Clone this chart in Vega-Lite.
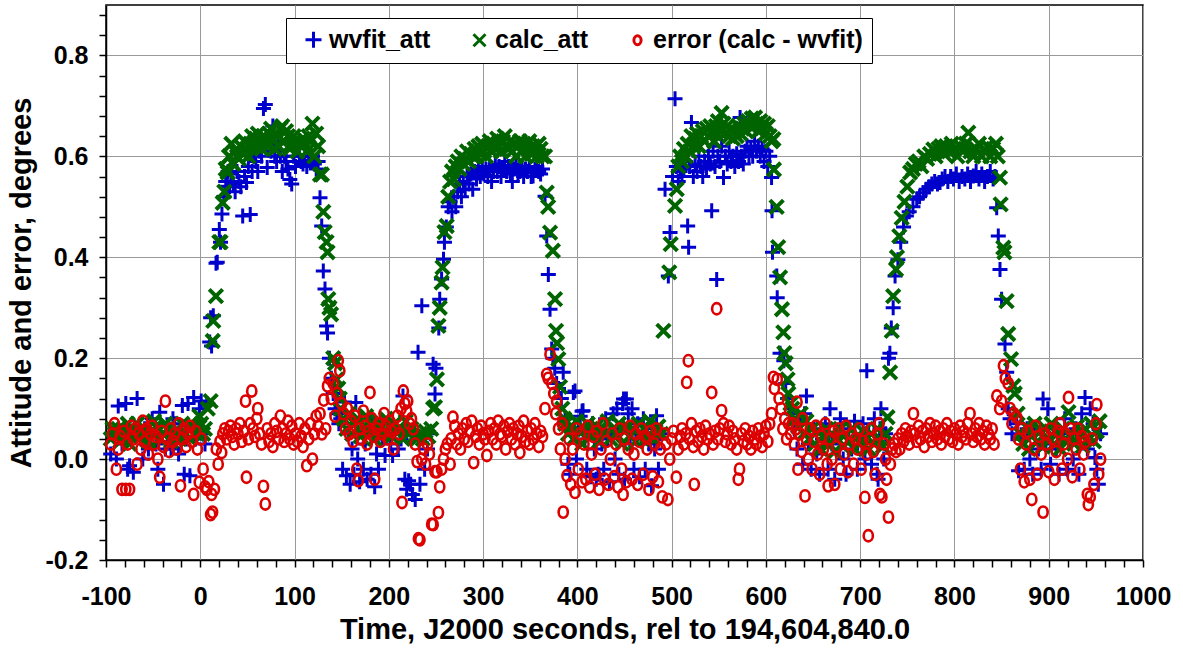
{
"$schema":"https://vega.github.io/schema/vega-lite/v6.json",
"width":1037,"height":555,
"autosize":{"type":"none"},
"padding":{"left":106,"top":5,"right":40,"bottom":93},
"background":"white",
"config":{
 "view":{"stroke":"black","strokeWidth":1.5},
 "font":"Liberation Sans",
 "axis":{"labelFont":"Liberation Sans","labelFontWeight":"bold","labelFontSize":25,"labelColor":"black","titleFont":"Liberation Sans","titleFontWeight":"bold","titleFontSize":29,"titleColor":"black","domainColor":"black","domainWidth":1.5,"tickColor":"black","tickWidth":1.5,"tickSize":7,"gridWidth":1,"labelOverlap":false,"labelFlush":false}
},
"datasets":{
"w":[{"t":-95,"v":0.01},{"t":-91,"v":0.05},{"t":-89,"v":0.0},{"t":-87,"v":0.105},{"t":-83,"v":0.03},{"t":-79,"v":0.11},{"t":-77,"v":-0.02},{"t":-75,"v":-0.013},{"t":-71,"v":-0.026},{"t":-67,"v":0.12},{"t":-63,"v":0.04},{"t":-61,"v":0.0},{"t":-59,"v":0.06},{"t":-55,"v":0.02},{"t":-51,"v":0.08},{"t":-47,"v":0.03},{"t":-45,"v":-0.02},{"t":-43,"v":0.093},{"t":-42,"v":0.05},{"t":-39,"v":-0.05},{"t":-37,"v":0.02},{"t":-35,"v":0.05},{"t":-31,"v":0.02},{"t":-29,"v":0.08},{"t":-27,"v":0.07},{"t":-23,"v":0.01},{"t":-19,"v":0.106},{"t":-17,"v":-0.03},{"t":-15,"v":0.04},{"t":-13,"v":0.11},{"t":-11,"v":-0.033},{"t":-7,"v":0.122},{"t":-5,"v":0.04},{"t":-3,"v":0.06},{"t":-1,"v":0.1},{"t":1,"v":0.115},{"t":3,"v":0.05},{"t":5,"v":0.03},{"t":7,"v":0.11},
{"t":10,"v":0.232},{"t":11,"v":0.28},{"t":12,"v":0.224},{"t":13.8,"v":0.284},{"t":16.7,"v":0.388},{"t":18,"v":0.39},{"t":20.2,"v":0.455},{"t":21.5,"v":0.43},{"t":23,"v":0.486},{"t":25,"v":0.52},{"t":27,"v":0.55},{"t":28,"v":0.541},{"t":29.5,"v":0.57},
{"t":31,"v":0.54},{"t":33,"v":0.565},{"t":35,"v":0.545},{"t":37,"v":0.53},{"t":39,"v":0.57},{"t":41,"v":0.55},{"t":43,"v":0.54},{"t":45,"v":0.482},{"t":47,"v":0.56},{"t":49,"v":0.548},{"t":51,"v":0.58},{"t":53,"v":0.485},{"t":55,"v":0.57},{"t":57,"v":0.6},{"t":59,"v":0.59},{"t":61,"v":0.57},{"t":63,"v":0.61},{"t":65,"v":0.6},{"t":67,"v":0.695},{"t":69,"v":0.703},{"t":71,"v":0.578},{"t":73,"v":0.62},{"t":75,"v":0.61},{"t":77,"v":0.66},{"t":79,"v":0.6},{"t":81,"v":0.59},{"t":83,"v":0.625},{"t":85,"v":0.6},{"t":87,"v":0.57},{"t":89,"v":0.6},{"t":91,"v":0.59},{"t":93,"v":0.575},{"t":95,"v":0.554},{"t":97,"v":0.545},{"t":99,"v":0.6},{"t":101,"v":0.58},{"t":103,"v":0.62},{"t":105,"v":0.6},{"t":107,"v":0.59},{"t":109,"v":0.585},{"t":111,"v":0.6},{"t":113,"v":0.58},{"t":115,"v":0.6},{"t":117,"v":0.59},{"t":119,"v":0.6},{"t":121,"v":0.585},{"t":123,"v":0.575},{"t":125,"v":0.59},
{"t":127,"v":0.518},{"t":128.8,"v":0.462},{"t":130.5,"v":0.373},{"t":132.3,"v":0.337},{"t":134,"v":0.264},{"t":135,"v":0.25},{"t":137,"v":0.2},{"t":139,"v":0.16},{"t":141,"v":0.13},{"t":143,"v":0.1},{"t":145,"v":0.09},{"t":147,"v":0.07},
{"t":149,"v":0.08},{"t":151,"v":-0.02},{"t":153,"v":0.113},{"t":155,"v":-0.033},{"t":157,"v":0.05},{"t":159,"v":-0.05},{"t":161,"v":0.02},{"t":163,"v":-0.03},{"t":165,"v":0.112},{"t":167,"v":0.0},{"t":169,"v":-0.045},{"t":171,"v":0.06},{"t":173,"v":-0.02},{"t":175,"v":0.03},{"t":177,"v":-0.04},{"t":179,"v":0.08},{"t":181,"v":-0.03},{"t":183,"v":0.05},{"t":185,"v":-0.055},{"t":187,"v":0.01},{"t":189,"v":-0.02},{"t":191,"v":0.07},{"t":193,"v":0.04},{"t":196,"v":0.007},{"t":199,"v":0.05},{"t":202,"v":0.03},{"t":204,"v":0.007},{"t":207,"v":0.06},{"t":210,"v":0.02},{"t":213,"v":0.04},{"t":215,"v":0.125},{"t":217,"v":-0.04},{"t":219,"v":-0.06},{"t":221,"v":-0.043},{"t":223,"v":-0.05},{"t":225,"v":-0.07},{"t":228,"v":-0.08},{"t":231,"v":0.212},{"t":233,"v":-0.05},{"t":235,"v":0.304},{"t":238,"v":-0.02},{"t":241,"v":0.02},{"t":244,"v":0.05},
{"t":247,"v":0.188},{"t":249,"v":0.129},{"t":250,"v":0.18},{"t":253,"v":0.26},{"t":254,"v":0.317},{"t":256,"v":0.357},{"t":258,"v":0.396},{"t":259,"v":0.43},{"t":261,"v":0.46},{"t":263,"v":0.5},{"t":265,"v":0.51},
{"t":267,"v":0.49},{"t":269,"v":0.52},{"t":271,"v":0.5},{"t":273,"v":0.53},{"t":275,"v":0.545},{"t":277,"v":0.52},{"t":279,"v":0.55},{"t":281,"v":0.535},{"t":283,"v":0.56},{"t":285,"v":0.545},{"t":287,"v":0.565},{"t":289,"v":0.535},{"t":291,"v":0.57},{"t":293,"v":0.555},{"t":295,"v":0.575},{"t":297,"v":0.56},{"t":299,"v":0.58},{"t":301,"v":0.565},{"t":303,"v":0.575},{"t":305,"v":0.56},{"t":307,"v":0.58},{"t":309,"v":0.55},{"t":311,"v":0.57},{"t":313,"v":0.585},{"t":315,"v":0.57},{"t":317,"v":0.58},{"t":319,"v":0.56},{"t":321,"v":0.575},{"t":323,"v":0.59},{"t":325,"v":0.57},{"t":327,"v":0.58},{"t":329,"v":0.565},{"t":331,"v":0.55},{"t":333,"v":0.575},{"t":335,"v":0.585},{"t":337,"v":0.565},{"t":339,"v":0.57},{"t":341,"v":0.58},{"t":343,"v":0.56},{"t":345,"v":0.575},{"t":347,"v":0.57},{"t":349,"v":0.58},{"t":351,"v":0.56},{"t":353,"v":0.561},{"t":355,"v":0.575},{"t":357,"v":0.58},{"t":359,"v":0.57},{"t":361,"v":0.565},{"t":363,"v":0.575},
{"t":365.7,"v":0.521},{"t":367.5,"v":0.442},{"t":369.2,"v":0.366},{"t":371,"v":0.297},{"t":372.8,"v":0.218},{"t":374,"v":0.2},{"t":376,"v":0.18},{"t":378,"v":0.15},{"t":380,"v":0.14},{"t":383,"v":0.12},{"t":385,"v":0.172},
{"t":387,"v":0.08},{"t":390,"v":-0.01},{"t":392,"v":-0.03},{"t":395.7,"v":0.132},{"t":397.5,"v":0.135},{"t":399,"v":0.0},{"t":401,"v":0.06},{"t":403,"v":0.085},{"t":405,"v":0.095},{"t":406,"v":0.096},{"t":408,"v":0.04},{"t":410,"v":-0.02},{"t":412,"v":0.05},{"t":414,"v":-0.035},{"t":416,"v":0.07},{"t":418,"v":0.02},{"t":420,"v":-0.04},{"t":422,"v":-0.03},{"t":424,"v":0.06},{"t":426,"v":0.03},{"t":428,"v":-0.02},{"t":430,"v":0.08},{"t":432,"v":0.04},{"t":434,"v":-0.045},{"t":436,"v":0.05},{"t":438,"v":0.09},{"t":440,"v":0.0},{"t":442,"v":0.1},{"t":444,"v":-0.03},{"t":446,"v":0.06},{"t":448,"v":0.11},{"t":449,"v":0.119},{"t":450,"v":-0.04},{"t":452,"v":0.119},{"t":454,"v":0.09},{"t":456,"v":0.03},{"t":458,"v":0.1},{"t":460,"v":-0.02},{"t":462,"v":0.05},{"t":464,"v":0.07},{"t":466,"v":-0.035},{"t":468,"v":0.04},{"t":470,"v":0.08},{"t":472,"v":-0.02},{"t":474,"v":0.05},{"t":476,"v":0.03},{"t":478.7,"v":-0.053},{"t":480,"v":0.06},{"t":482,"v":0.02},{"t":484,"v":0.086},{"t":486,"v":-0.02},{"t":488,"v":0.05},
{"t":493,"v":0.535},{"t":496.5,"v":0.363},{"t":498.3,"v":0.449},{"t":501,"v":0.56},{"t":503.6,"v":0.714},{"t":505,"v":0.58},
{"t":507,"v":0.55},{"t":509,"v":0.57},{"t":511,"v":0.56},{"t":513,"v":0.575},{"t":515,"v":0.59},{"t":517,"v":0.462},{"t":518,"v":0.42},{"t":519,"v":0.58},{"t":521,"v":0.667},{"t":523,"v":0.56},{"t":525,"v":0.585},{"t":527,"v":0.57},{"t":529,"v":0.6},{"t":531,"v":0.58},{"t":533,"v":0.56},{"t":535,"v":0.59},{"t":537,"v":0.575},{"t":539,"v":0.6},{"t":541,"v":0.585},{"t":542.5,"v":0.492},{"t":544,"v":0.61},{"t":546,"v":0.58},{"t":547.8,"v":0.356},{"t":549,"v":0.6},{"t":551,"v":0.59},{"t":553,"v":0.62},{"t":555,"v":0.558},{"t":557,"v":0.6},{"t":559,"v":0.585},{"t":561,"v":0.61},{"t":563,"v":0.59},{"t":565,"v":0.6},{"t":567,"v":0.58},{"t":569,"v":0.605},{"t":571,"v":0.59},{"t":572.6,"v":0.677},{"t":574,"v":0.6},{"t":576,"v":0.585},{"t":578,"v":0.61},{"t":580,"v":0.62},{"t":582,"v":0.6},{"t":584,"v":0.615},{"t":586,"v":0.6},{"t":588,"v":0.63},{"t":590,"v":0.61},{"t":592,"v":0.62},{"t":594,"v":0.6},{"t":596,"v":0.615},{"t":598,"v":0.59},{"t":600,"v":0.61},{"t":602,"v":0.58},{"t":604,"v":0.6},{"t":606,"v":0.558},
{"t":606.5,"v":0.492},{"t":607,"v":0.41},{"t":611.5,"v":0.363},{"t":612,"v":0.32},{"t":615,"v":0.21},{"t":619,"v":0.195},{"t":621,"v":0.15},{"t":623,"v":0.12},{"t":625,"v":0.09},
{"t":627,"v":0.1},{"t":630,"v":0.06},{"t":633,"v":0.02},{"t":636,"v":0.08},{"t":639,"v":-0.01},{"t":641,"v":0.09},{"t":643,"v":0.125},{"t":645,"v":0.03},{"t":648,"v":-0.02},{"t":651,"v":0.06},{"t":654,"v":0.01},{"t":657,"v":-0.03},{"t":660,"v":0.04},{"t":663,"v":0.07},{"t":666,"v":-0.02},{"t":668,"v":0.1},{"t":670,"v":0.03},{"t":673,"v":-0.04},{"t":676,"v":0.05},{"t":679,"v":0.08},{"t":682,"v":0.0},{"t":685,"v":-0.03},{"t":688,"v":0.06},{"t":691,"v":0.02},{"t":694,"v":0.075},{"t":697,"v":-0.02},{"t":700,"v":0.04},{"t":703,"v":0.07},{"t":705,"v":0.0},{"t":707,"v":0.175},{"t":709,"v":0.05},{"t":712,"v":-0.01},{"t":715,"v":0.08},{"t":718,"v":-0.03},{"t":719,"v":-0.04},{"t":721,"v":0.06},{"t":722,"v":0.1},{"t":725,"v":0.0},{"t":727,"v":0.05},
{"t":730,"v":0.2},{"t":731.5,"v":0.21},{"t":733,"v":0.26},{"t":735,"v":0.3},{"t":737,"v":0.363},{"t":740,"v":0.395},{"t":743,"v":0.43},{"t":746,"v":0.46},{"t":749,"v":0.482},{"t":752,"v":0.49},{"t":756,"v":0.5},{"t":760,"v":0.515},
{"t":763,"v":0.52},{"t":767,"v":0.528},{"t":770,"v":0.535},{"t":773,"v":0.54},{"t":776,"v":0.545},{"t":779,"v":0.55},{"t":782,"v":0.545},{"t":784.7,"v":0.548},{"t":787,"v":0.555},{"t":790,"v":0.56},{"t":793,"v":0.55},{"t":796,"v":0.56},{"t":799,"v":0.555},{"t":802,"v":0.565},{"t":805,"v":0.55},{"t":808,"v":0.56},{"t":811,"v":0.555},{"t":814,"v":0.565},{"t":817,"v":0.55},{"t":820,"v":0.561},{"t":823,"v":0.57},{"t":826,"v":0.555},{"t":829,"v":0.565},{"t":832,"v":0.55},{"t":835,"v":0.56},{"t":838,"v":0.57},{"t":841,"v":0.555},{"t":843,"v":0.56},
{"t":844.8,"v":0.498},{"t":846.5,"v":0.442},{"t":848.3,"v":0.376},{"t":850,"v":0.317},{"t":853.6,"v":0.228},{"t":855.4,"v":0.172},{"t":857,"v":0.1},{"t":859,"v":0.08},{"t":861,"v":0.05},
{"t":866,"v":0.07},{"t":868,"v":-0.023},{"t":871,"v":0.04},{"t":874,"v":-0.02},{"t":877,"v":0.06},{"t":880,"v":0.0},{"t":883,"v":-0.03},{"t":886,"v":0.05},{"t":889,"v":0.02},{"t":892,"v":-0.02},{"t":894,"v":0.119},{"t":897,"v":0.03},{"t":899,"v":0.1},{"t":902,"v":-0.01},{"t":905,"v":0.06},{"t":908,"v":0.02},{"t":911,"v":-0.03},{"t":914,"v":0.05},{"t":917,"v":0.08},{"t":920,"v":-0.02},{"t":923,"v":0.04},{"t":926,"v":0.0},{"t":929,"v":0.06},{"t":932,"v":-0.03},{"t":935,"v":0.09},{"t":938.5,"v":0.122},{"t":941,"v":0.02},{"t":944,"v":0.1},{"t":947,"v":0.07},{"t":949,"v":0.003},{"t":951,"v":-0.02},{"t":952.6,"v":-0.05},{"t":955,"v":0.05}],
"c":[{"t":-95,"v":0.04},{"t":-93,"v":0.06},{"t":-91,"v":0.05},{"t":-87,"v":0.06},{"t":-85,"v":0.035},{"t":-83,"v":0.04},{"t":-79,"v":0.055},{"t":-77,"v":0.07},{"t":-75,"v":0.03},{"t":-71,"v":0.05},{"t":-69,"v":0.045},{"t":-67,"v":0.07},{"t":-63,"v":0.045},{"t":-59,"v":0.06},{"t":-57,"v":0.04},{"t":-55,"v":0.035},{"t":-51,"v":0.05},{"t":-49,"v":0.075},{"t":-47,"v":0.065},{"t":-43,"v":0.04},{"t":-39,"v":0.05},{"t":-37,"v":0.07},{"t":-35,"v":0.06},{"t":-31,"v":0.035},{"t":-27,"v":0.055},{"t":-25,"v":0.04},{"t":-23,"v":0.045},{"t":-19,"v":0.07},{"t":-15,"v":0.05},{"t":-13,"v":0.065},{"t":-11,"v":0.04},{"t":-7,"v":0.065},{"t":-3,"v":0.05},{"t":-1,"v":0.085},{"t":1,"v":0.07},{"t":3,"v":0.05},{"t":5,"v":0.06},{"t":8,"v":0.1},{"t":11,"v":0.115},
{"t":13.2,"v":0.234},{"t":13.8,"v":0.274},{"t":16.6,"v":0.323},{"t":20.2,"v":0.43},{"t":21.5,"v":0.43},{"t":23.8,"v":0.508},{"t":25.5,"v":0.53},{"t":27,"v":0.575},{"t":29,"v":0.568},{"t":30.5,"v":0.6},
{"t":31,"v":0.6},{"t":33,"v":0.625},{"t":35,"v":0.585},{"t":37,"v":0.61},{"t":39,"v":0.6},{"t":41,"v":0.595},{"t":43,"v":0.62},{"t":45,"v":0.605},{"t":47,"v":0.63},{"t":49,"v":0.615},{"t":51,"v":0.6},{"t":53,"v":0.625},{"t":55,"v":0.64},{"t":57,"v":0.62},{"t":59,"v":0.635},{"t":61,"v":0.645},{"t":63,"v":0.625},{"t":65,"v":0.615},{"t":67,"v":0.64},{"t":69,"v":0.63},{"t":71,"v":0.62},{"t":73,"v":0.645},{"t":75,"v":0.655},{"t":77,"v":0.635},{"t":79,"v":0.615},{"t":81,"v":0.64},{"t":83,"v":0.62},{"t":85,"v":0.655},{"t":87,"v":0.66},{"t":89,"v":0.63},{"t":91,"v":0.65},{"t":93,"v":0.64},{"t":95,"v":0.615},{"t":97,"v":0.625},{"t":99,"v":0.64},{"t":101,"v":0.63},{"t":103,"v":0.61},{"t":105,"v":0.625},{"t":107,"v":0.62},{"t":109,"v":0.635},{"t":111,"v":0.625},{"t":113,"v":0.61},{"t":115,"v":0.64},{"t":117,"v":0.63},{"t":119,"v":0.665},{"t":121,"v":0.6},{"t":123,"v":0.645},{"t":125,"v":0.62},
{"t":127,"v":0.564},{"t":129,"v":0.564},{"t":130.5,"v":0.49},{"t":132,"v":0.45},{"t":134,"v":0.43},{"t":135,"v":0.41},{"t":135.8,"v":0.317},{"t":137,"v":0.3},{"t":138.7,"v":0.287},{"t":141,"v":0.2},{"t":143,"v":0.19},{"t":144.7,"v":0.158},{"t":146.4,"v":0.14},{"t":148,"v":0.12},
{"t":149,"v":0.1},{"t":152,"v":0.08},{"t":155,"v":0.06},{"t":158,"v":0.09},{"t":161,"v":0.05},{"t":164,"v":0.07},{"t":167,"v":0.08},{"t":170,"v":0.045},{"t":173,"v":0.065},{"t":176,"v":0.085},{"t":179,"v":0.055},{"t":182,"v":0.07},{"t":185,"v":0.04},{"t":188,"v":0.075},{"t":191,"v":0.06},{"t":194,"v":0.05},{"t":197,"v":0.08},{"t":200,"v":0.065},{"t":203,"v":0.045},{"t":206,"v":0.07},{"t":209,"v":0.055},{"t":212,"v":0.06},{"t":215,"v":0.04},{"t":218,"v":0.075},{"t":221,"v":0.05},{"t":224,"v":0.06},{"t":227,"v":0.045},{"t":230,"v":0.04},{"t":233,"v":0.05},{"t":236,"v":0.04},{"t":239,"v":0.055},{"t":242,"v":0.045},{"t":245,"v":0.06},
{"t":247,"v":0.1},{"t":249,"v":0.103},{"t":251,"v":0.158},{"t":252.6,"v":0.264},{"t":254,"v":0.3},{"t":256,"v":0.35},{"t":257,"v":0.38},{"t":259,"v":0.45},{"t":261.4,"v":0.462},{"t":263,"v":0.52},{"t":265,"v":0.55},
{"t":267,"v":0.57},{"t":269,"v":0.555},{"t":271,"v":0.58},{"t":273,"v":0.59},{"t":275,"v":0.575},{"t":277,"v":0.6},{"t":279,"v":0.585},{"t":281,"v":0.595},{"t":283,"v":0.61},{"t":285,"v":0.59},{"t":287,"v":0.605},{"t":289,"v":0.6},{"t":291,"v":0.615},{"t":293,"v":0.6},{"t":295,"v":0.62},{"t":297,"v":0.605},{"t":299,"v":0.625},{"t":301,"v":0.61},{"t":303,"v":0.6},{"t":305,"v":0.62},{"t":307,"v":0.63},{"t":309,"v":0.61},{"t":311,"v":0.625},{"t":313,"v":0.615},{"t":315,"v":0.635},{"t":317,"v":0.62},{"t":319,"v":0.61},{"t":321,"v":0.63},{"t":323,"v":0.64},{"t":325,"v":0.62},{"t":327,"v":0.615},{"t":329,"v":0.63},{"t":331,"v":0.61},{"t":333,"v":0.625},{"t":335,"v":0.6},{"t":337,"v":0.62},{"t":339,"v":0.63},{"t":341,"v":0.61},{"t":343,"v":0.625},{"t":345,"v":0.6},{"t":347,"v":0.615},{"t":349,"v":0.63},{"t":351,"v":0.605},{"t":353,"v":0.62},{"t":355,"v":0.61},{"t":357,"v":0.6},{"t":359,"v":0.625},{"t":361,"v":0.615},{"t":363,"v":0.6},
{"t":365.7,"v":0.6},{"t":367.5,"v":0.528},{"t":369,"v":0.5},{"t":371,"v":0.449},{"t":374,"v":0.413},{"t":376.3,"v":0.317},{"t":377.4,"v":0.254},{"t":378.5,"v":0.23},{"t":379.8,"v":0.198},{"t":381.6,"v":0.143},{"t":384,"v":0.1},{"t":386,"v":0.08},
{"t":387,"v":0.07},{"t":390,"v":0.05},{"t":393,"v":0.065},{"t":396,"v":0.04},{"t":399,"v":0.075},{"t":402,"v":0.055},{"t":405,"v":0.03},{"t":408,"v":0.06},{"t":411,"v":0.07},{"t":414,"v":0.045},{"t":417,"v":0.055},{"t":420,"v":0.065},{"t":423,"v":0.035},{"t":426,"v":0.06},{"t":429,"v":0.05},{"t":432,"v":0.075},{"t":435,"v":0.04},{"t":438,"v":0.06},{"t":441,"v":0.05},{"t":444,"v":0.07},{"t":447,"v":0.03},{"t":450,"v":0.055},{"t":453,"v":0.065},{"t":456,"v":0.045},{"t":459,"v":0.06},{"t":462,"v":0.035},{"t":465,"v":0.07},{"t":468,"v":0.05},{"t":471,"v":0.06},{"t":474,"v":0.045},{"t":477,"v":0.075},{"t":480,"v":0.04},{"t":483,"v":0.055},{"t":486,"v":0.065},{"t":489,"v":0.05},
{"t":491.3,"v":0.254},{"t":497.5,"v":0.37},{"t":499,"v":0.426},{"t":503.6,"v":0.502},{"t":505.4,"v":0.535},
{"t":507,"v":0.58},{"t":509,"v":0.6},{"t":511,"v":0.59},{"t":513,"v":0.615},{"t":515,"v":0.6},{"t":517,"v":0.625},{"t":519,"v":0.61},{"t":521,"v":0.64},{"t":523,"v":0.62},{"t":525,"v":0.635},{"t":527,"v":0.645},{"t":529,"v":0.62},{"t":531,"v":0.64},{"t":533,"v":0.65},{"t":535,"v":0.63},{"t":537,"v":0.655},{"t":539,"v":0.64},{"t":541,"v":0.66},{"t":543,"v":0.645},{"t":545,"v":0.63},{"t":547,"v":0.66},{"t":549,"v":0.67},{"t":551,"v":0.65},{"t":553,"v":0.686},{"t":555,"v":0.665},{"t":557,"v":0.645},{"t":559,"v":0.66},{"t":561,"v":0.64},{"t":563,"v":0.655},{"t":565,"v":0.635},{"t":567,"v":0.65},{"t":569,"v":0.64},{"t":571,"v":0.66},{"t":573,"v":0.645},{"t":575,"v":0.655},{"t":577,"v":0.665},{"t":579,"v":0.65},{"t":581,"v":0.67},{"t":583,"v":0.66},{"t":585,"v":0.675},{"t":587,"v":0.66},{"t":588.5,"v":0.677},{"t":590,"v":0.665},{"t":592,"v":0.65},{"t":594,"v":0.67},{"t":596,"v":0.655},{"t":598,"v":0.665},{"t":600,"v":0.645},{"t":602,"v":0.66},{"t":604,"v":0.64},{"t":606,"v":0.63},
{"t":608,"v":0.634},{"t":608.5,"v":0.574},{"t":611.4,"v":0.5},{"t":613,"v":0.42},{"t":615,"v":0.36},{"t":617,"v":0.297},{"t":618.5,"v":0.251},{"t":619.5,"v":0.21},{"t":621,"v":0.19},{"t":623,"v":0.158},{"t":623.8,"v":0.13},{"t":626,"v":0.11},
{"t":628,"v":0.1},{"t":631,"v":0.08},{"t":634,"v":0.065},{"t":637,"v":0.09},{"t":640,"v":0.05},{"t":643,"v":0.075},{"t":646,"v":0.04},{"t":649,"v":0.06},{"t":652,"v":0.03},{"t":655,"v":0.055},{"t":658,"v":0.02},{"t":661,"v":0.045},{"t":664,"v":0.06},{"t":667,"v":0.03},{"t":670,"v":0.05},{"t":673,"v":0.015},{"t":676,"v":0.04},{"t":679,"v":0.06},{"t":682,"v":0.025},{"t":685,"v":0.05},{"t":688,"v":0.035},{"t":691,"v":0.06},{"t":694,"v":0.02},{"t":697,"v":0.045},{"t":700,"v":0.03},{"t":703,"v":0.055},{"t":706,"v":0.04},{"t":709,"v":0.02},{"t":712,"v":0.05},{"t":715,"v":0.03},{"t":718,"v":0.06},{"t":721,"v":0.04},{"t":724,"v":0.025},{"t":727,"v":0.05},{"t":729,"v":0.083},
{"t":731.7,"v":0.172},{"t":733.5,"v":0.254},{"t":735,"v":0.323},{"t":738,"v":0.376},{"t":739,"v":0.4},{"t":741.5,"v":0.442},{"t":744,"v":0.478},{"t":747,"v":0.51},{"t":750,"v":0.54},{"t":753,"v":0.568},
{"t":756,"v":0.575},{"t":759,"v":0.585},{"t":762,"v":0.59},{"t":765,"v":0.58},{"t":768,"v":0.6},{"t":771,"v":0.595},{"t":774,"v":0.605},{"t":777.6,"v":0.614},{"t":780,"v":0.6},{"t":783,"v":0.615},{"t":786,"v":0.62},{"t":789,"v":0.605},{"t":791,"v":0.62},{"t":794,"v":0.61},{"t":797,"v":0.625},{"t":800,"v":0.615},{"t":803,"v":0.6},{"t":806,"v":0.62},{"t":809,"v":0.61},{"t":812,"v":0.625},{"t":814.7,"v":0.647},{"t":817,"v":0.61},{"t":820,"v":0.6},{"t":823,"v":0.615},{"t":826,"v":0.625},{"t":829,"v":0.6},{"t":832,"v":0.61},{"t":835,"v":0.62},{"t":838,"v":0.6},{"t":841,"v":0.615},{"t":844,"v":0.625},{"t":846,"v":0.6},
{"t":848.3,"v":0.558},{"t":849,"v":0.505},{"t":851.8,"v":0.419},{"t":853,"v":0.41},{"t":855.3,"v":0.313},{"t":857,"v":0.248},{"t":860,"v":0.198},{"t":862.5,"v":0.145},{"t":864,"v":0.13},
{"t":867,"v":0.09},{"t":870,"v":0.05},{"t":873,"v":0.03},{"t":876,"v":0.065},{"t":879,"v":0.02},{"t":882,"v":0.045},{"t":885,"v":0.07},{"t":888,"v":0.035},{"t":891,"v":0.055},{"t":894,"v":0.025},{"t":897,"v":0.06},{"t":900,"v":0.04},{"t":903,"v":0.07},{"t":906,"v":0.03},{"t":909,"v":0.05},{"t":912,"v":0.02},{"t":915,"v":0.06},{"t":918,"v":0.04},{"t":921,"v":0.093},{"t":924,"v":0.045},{"t":927,"v":0.03},{"t":930,"v":0.065},{"t":933,"v":0.05},{"t":936,"v":0.025},{"t":939,"v":0.06},{"t":942,"v":0.04},{"t":945,"v":0.07},{"t":948,"v":0.035},{"t":951,"v":0.055},{"t":954,"v":0.075}],
"e":[{"t":-95,"v":0.03},{"t":-93,"v":0.05},{"t":-91,"v":0.07},{"t":-89,"v":-0.02},{"t":-87,"v":0.02},{"t":-85,"v":0.045},{"t":-83,"v":-0.06},{"t":-81,"v":0.055},{"t":-79,"v":-0.06},{"t":-77,"v":0.03},{"t":-75,"v":-0.06},{"t":-73,"v":0.065},{"t":-71,"v":0.04},{"t":-69,"v":0.06},{"t":-67,"v":-0.01},{"t":-65,"v":0.05},{"t":-63,"v":0.02},{"t":-61,"v":0.075},{"t":-59,"v":0.035},{"t":-57,"v":0.06},{"t":-55,"v":0.01},{"t":-53,"v":0.05},{"t":-51,"v":0.065},{"t":-49,"v":0.03},{"t":-47,"v":0.045},{"t":-45,"v":0.0},{"t":-43,"v":-0.036},{"t":-41,"v":0.055},{"t":-39,"v":0.025},{"t":-37,"v":0.115},{"t":-35,"v":0.04},{"t":-33,"v":0.015},{"t":-31,"v":0.06},{"t":-29,"v":0.035},{"t":-27,"v":0.05},{"t":-25,"v":0.02},{"t":-23,"v":0.07},{"t":-21,"v":-0.053},{"t":-19,"v":0.04},{"t":-17,"v":0.06},{"t":-15,"v":0.025},{"t":-13,"v":0.05},{"t":-11,"v":0.065},{"t":-9,"v":0.035},{"t":-7,"v":-0.07},{"t":-5,"v":0.055},{"t":-3,"v":0.02},{"t":-1,"v":-0.046},{"t":1,"v":0.04},{"t":3,"v":-0.02},{"t":5,"v":-0.055},{"t":7,"v":-0.06},{"t":9,"v":-0.045},{"t":11,"v":-0.11},{"t":12,"v":-0.07},{"t":13,"v":-0.105},{"t":15,"v":-0.06},{"t":17,"v":0.02},
{"t":19,"v":-0.01},{"t":21,"v":0.035},{"t":22.7,"v":0.013},{"t":24,"v":0.05},{"t":26,"v":0.06},{"t":28,"v":0.04},{"t":30,"v":0.055},{"t":32,"v":0.065},{"t":34,"v":0.045},{"t":36,"v":0.03},{"t":38,"v":0.06},{"t":40,"v":0.05},{"t":42,"v":0.07},{"t":44,"v":0.035},{"t":46,"v":0.055},{"t":48,"v":0.115},{"t":49,"v":-0.036},{"t":51,"v":0.04},{"t":53,"v":0.07},{"t":54.6,"v":0.135},{"t":56,"v":0.06},{"t":58,"v":0.045},{"t":60,"v":0.08},{"t":61,"v":0.1},{"t":63,"v":0.05},{"t":65,"v":0.03},{"t":67,"v":-0.054},{"t":69,"v":-0.089},{"t":71,"v":0.06},{"t":73,"v":0.035},{"t":75,"v":0.05},{"t":77,"v":0.025},{"t":79,"v":0.07},{"t":81,"v":0.055},{"t":83,"v":0.04},{"t":85,"v":0.085},{"t":87,"v":0.06},{"t":89,"v":0.035},{"t":91,"v":0.05},{"t":93,"v":0.075},{"t":95,"v":0.04},{"t":97,"v":0.065},{"t":99,"v":0.03},{"t":101,"v":0.05},{"t":103,"v":0.035},{"t":105,"v":0.07},{"t":107,"v":0.045},{"t":109,"v":0.025},{"t":111,"v":0.06},{"t":113,"v":-0.013},{"t":115,"v":0.04},{"t":117,"v":0.07},{"t":119,"v":0.0},{"t":121,"v":0.05},{"t":123,"v":0.085},{"t":125,"v":0.065},{"t":127,"v":0.09},
{"t":129,"v":0.05},{"t":131,"v":0.117},{"t":133,"v":0.06},{"t":135,"v":0.145},{"t":137,"v":0.16},{"t":139,"v":0.12},{"t":141,"v":0.15},{"t":143,"v":0.085},{"t":145,"v":0.13},{"t":146.4,"v":0.195},{"t":148,"v":0.175},
{"t":150,"v":0.11},{"t":152,"v":0.09},{"t":154,"v":0.06},{"t":156,"v":0.1},{"t":158,"v":0.05},{"t":160,"v":0.075},{"t":162,"v":0.035},{"t":164,"v":0.085},{"t":166,"v":-0.02},{"t":167.6,"v":-0.043},{"t":169,"v":0.06},{"t":171,"v":0.04},{"t":173,"v":0.095},{"t":175,"v":0.065},{"t":177,"v":0.03},{"t":179,"v":0.055},{"t":180,"v":0.132},{"t":182,"v":0.08},{"t":184,"v":0.045},{"t":185,"v":-0.04},{"t":187,"v":0.06},{"t":189,"v":0.07},{"t":191,"v":0.035},{"t":193,"v":0.05},{"t":195,"v":0.09},{"t":197,"v":0.065},{"t":199,"v":0.04},{"t":201,"v":0.075},{"t":203,"v":0.055},{"t":205,"v":0.02},{"t":207,"v":0.06},{"t":209,"v":0.085},{"t":211,"v":0.05},{"t":213,"v":0.1},{"t":214,"v":-0.086},{"t":215.4,"v":0.135},{"t":217,"v":0.11},{"t":219,"v":0.095},{"t":220,"v":0.115},{"t":222,"v":0.07},{"t":224,"v":0.08},{"t":226,"v":0.06},{"t":228,"v":0.03},{"t":230,"v":-0.005},{"t":231.4,"v":-0.158},{"t":233,"v":-0.16},{"t":235,"v":0.0},{"t":237,"v":0.02},{"t":239,"v":-0.01},{"t":241,"v":0.03},{"t":243,"v":0.01},{"t":245.5,"v":-0.129},{"t":247,"v":-0.13},{"t":249,"v":-0.025},{"t":251,"v":-0.025},{"t":252.6,"v":-0.106},{"t":254,"v":-0.055},{"t":256,"v":-0.02},{"t":258,"v":0.0},{"t":260,"v":0.02},{"t":262,"v":0.03},{"t":265,"v":-0.01},
{"t":266,"v":0.04},{"t":268,"v":0.083},{"t":270,"v":0.065},{"t":272,"v":0.03},{"t":274,"v":0.05},{"t":276,"v":0.02},{"t":278,"v":0.06},{"t":280,"v":0.04},{"t":282,"v":0.07},{"t":284,"v":0.035},{"t":286,"v":0.055},{"t":288,"v":0.075},{"t":290,"v":-0.007},{"t":292,"v":0.045},{"t":294,"v":0.06},{"t":296,"v":0.03},{"t":298,"v":0.065},{"t":300,"v":0.05},{"t":302,"v":0.04},{"t":304,"v":0.007},{"t":306,"v":0.055},{"t":308,"v":0.07},{"t":310,"v":0.04},{"t":312,"v":0.06},{"t":314,"v":0.03},{"t":316,"v":0.075},{"t":318,"v":0.05},{"t":320,"v":0.045},{"t":322,"v":0.065},{"t":324,"v":0.02},{"t":326,"v":0.055},{"t":328,"v":0.07},{"t":330,"v":0.04},{"t":332,"v":0.06},{"t":334,"v":0.03},{"t":336,"v":0.05},{"t":338,"v":0.065},{"t":339,"v":0.013},{"t":341,"v":0.045},{"t":343,"v":0.075},{"t":345,"v":0.035},{"t":347,"v":0.055},{"t":349,"v":0.03},{"t":351,"v":0.06},{"t":353,"v":0.04},{"t":355,"v":0.07},{"t":357,"v":0.05},{"t":359,"v":0.025},{"t":361,"v":0.055},{"t":363,"v":0.045},
{"t":365.7,"v":0.1},{"t":367.5,"v":0.168},{"t":369,"v":0.16},{"t":371,"v":0.208},{"t":373,"v":0.15},{"t":375,"v":0.13},{"t":377,"v":0.09},{"t":378,"v":0.115},{"t":380,"v":0.06},{"t":382,"v":0.02},{"t":384,"v":0.07},{"t":385,"v":-0.105},{"t":387,"v":0.0},
{"t":389,"v":-0.033},{"t":391,"v":0.04},{"t":393,"v":-0.05},{"t":395,"v":0.02},{"t":397.5,"v":-0.066},{"t":399,"v":0.06},{"t":401,"v":-0.02},{"t":403,"v":0.05},{"t":405,"v":-0.045},{"t":407,"v":0.03},{"t":409,"v":-0.04},{"t":411,"v":0.065},{"t":413,"v":-0.055},{"t":415,"v":0.01},{"t":417,"v":0.045},{"t":419,"v":-0.03},{"t":421,"v":0.055},{"t":423,"v":-0.06},{"t":425,"v":0.02},{"t":427,"v":0.07},{"t":429,"v":-0.04},{"t":431,"v":0.035},{"t":433,"v":-0.05},{"t":435,"v":0.0},{"t":437,"v":0.05},{"t":439,"v":-0.035},{"t":441,"v":0.03},{"t":443,"v":-0.055},{"t":445,"v":0.06},{"t":447,"v":-0.02},{"t":448.5,"v":-0.07},{"t":450,"v":0.04},{"t":452,"v":-0.045},{"t":454,"v":0.02},{"t":456,"v":0.065},{"t":458,"v":-0.04},{"t":460,"v":0.01},{"t":462,"v":0.05},{"t":464,"v":-0.05},{"t":466,"v":0.035},{"t":468,"v":0.06},{"t":470,"v":-0.03},{"t":472,"v":0.045},{"t":474,"v":0.02},{"t":476,"v":-0.06},{"t":478,"v":0.055},{"t":480,"v":-0.035},{"t":482,"v":0.03},{"t":484,"v":0.06},{"t":486,"v":-0.045},{"t":488,"v":0.02},{"t":490,"v":-0.075},{"t":492,"v":0.05},
{"t":494,"v":0.03},{"t":496,"v":-0.08},{"t":498,"v":0.0},{"t":500,"v":0.04},{"t":502,"v":0.055},{"t":505,"v":-0.036},{"t":507,"v":0.02},{"t":509,"v":0.045},{"t":511,"v":0.06},{"t":513,"v":0.03},{"t":515,"v":0.05},{"t":516,"v":0.152},{"t":517.7,"v":0.195},{"t":519,"v":0.04},{"t":521,"v":0.07},{"t":523,"v":0.025},{"t":524,"v":-0.05},{"t":526,"v":0.055},{"t":528,"v":0.035},{"t":530,"v":0.06},{"t":532,"v":0.045},{"t":534,"v":0.02},{"t":536,"v":0.065},{"t":538,"v":0.04},{"t":540,"v":0.05},{"t":542.5,"v":0.132},{"t":544,"v":0.03},{"t":546,"v":0.055},{"t":547.8,"v":0.298},{"t":549,"v":0.04},{"t":551,"v":0.06},{"t":553,"v":0.096},{"t":555,"v":0.07},{"t":557,"v":0.035},{"t":559,"v":0.05},{"t":561,"v":0.065},{"t":563,"v":0.03},{"t":565,"v":0.055},{"t":567,"v":0.04},{"t":569,"v":0.02},{"t":570.7,"v":-0.04},{"t":572,"v":-0.02},{"t":574,"v":0.05},{"t":576,"v":0.035},{"t":578,"v":0.06},{"t":580,"v":0.03},{"t":582,"v":0.045},{"t":584,"v":0.02},{"t":586,"v":0.055},{"t":588,"v":0.04},{"t":590,"v":0.03},{"t":592,"v":0.06},{"t":594,"v":0.045},{"t":596,"v":0.025},{"t":598,"v":0.05},{"t":600,"v":0.065},{"t":602,"v":0.035},{"t":604,"v":0.07},
{"t":606,"v":0.09},{"t":608,"v":0.162},{"t":609,"v":0.14},{"t":612,"v":0.158},{"t":614,"v":0.12},{"t":616,"v":0.1},{"t":618,"v":0.06},{"t":620,"v":0.08},{"t":622,"v":0.04},{"t":624,"v":0.07},{"t":626,"v":0.05},{"t":633,"v":0.113},
{"t":628,"v":0.07},{"t":630,"v":0.03},{"t":632,"v":0.06},{"t":634,"v":-0.02},{"t":636,"v":0.05},{"t":638,"v":0.015},{"t":639,"v":0.08},{"t":641.5,"v":-0.073},{"t":643,"v":0.04},{"t":645,"v":0.0},{"t":647,"v":0.06},{"t":649,"v":-0.02},{"t":651,"v":0.035},{"t":653,"v":0.065},{"t":655,"v":0.01},{"t":657,"v":-0.03},{"t":659,"v":0.045},{"t":661,"v":0.02},{"t":663,"v":0.07},{"t":665,"v":-0.01},{"t":666,"v":-0.053},{"t":668,"v":0.04},{"t":670,"v":0.0},{"t":672,"v":0.055},{"t":673,"v":-0.05},{"t":675,"v":0.025},{"t":677,"v":0.06},{"t":679,"v":-0.02},{"t":681,"v":0.04},{"t":683,"v":0.01},{"t":685,"v":0.065},{"t":687,"v":-0.025},{"t":689,"v":0.03},{"t":691,"v":0.05},{"t":693,"v":-0.01},{"t":695,"v":0.04},{"t":697,"v":0.02},{"t":699,"v":0.06},{"t":701,"v":-0.02},{"t":703,"v":0.035},{"t":705,"v":-0.076},{"t":707,"v":0.01},{"t":708.6,"v":-0.152},{"t":710,"v":0.04},{"t":712,"v":0.06},{"t":714,"v":0.015},{"t":716,"v":-0.03},{"t":718,"v":0.05},{"t":720,"v":0.07},{"t":721,"v":-0.07},{"t":723,"v":-0.075},{"t":725,"v":0.03},{"t":727,"v":0.0},{"t":728,"v":-0.04},{"t":730,"v":-0.115},{"t":732,"v":-0.01},{"t":734,"v":0.02},
{"t":736,"v":0.03},{"t":738,"v":0.015},{"t":740,"v":0.04},{"t":742,"v":0.02},{"t":744,"v":0.05},{"t":746,"v":0.035},{"t":748,"v":0.06},{"t":750,"v":0.045},{"t":752,"v":0.03},{"t":754,"v":0.055},{"t":756.5,"v":0.09},{"t":758,"v":0.05},{"t":760,"v":0.035},{"t":762,"v":0.065},{"t":764,"v":0.04},{"t":766,"v":0.055},{"t":768,"v":0.025},{"t":770,"v":0.06},{"t":772,"v":0.045},{"t":774,"v":0.07},{"t":776,"v":0.035},{"t":778,"v":0.05},{"t":780,"v":0.065},{"t":782,"v":0.04},{"t":784,"v":0.055},{"t":786,"v":0.03},{"t":788,"v":0.06},{"t":790,"v":0.045},{"t":792,"v":0.07},{"t":794,"v":0.04},{"t":796,"v":0.055},{"t":798,"v":0.035},{"t":800,"v":0.06},{"t":802,"v":0.05},{"t":804,"v":0.03},{"t":806,"v":0.065},{"t":808,"v":0.045},{"t":810,"v":0.055},{"t":812,"v":0.04},{"t":814,"v":0.07},{"t":816.5,"v":0.09},{"t":818,"v":0.05},{"t":820,"v":0.035},{"t":822,"v":0.06},{"t":824,"v":0.045},{"t":826,"v":0.07},{"t":828,"v":0.04},{"t":830,"v":0.055},{"t":832,"v":0.03},{"t":834,"v":0.065},{"t":836,"v":0.05},{"t":838,"v":0.04},{"t":840,"v":0.06},{"t":842,"v":0.03},
{"t":845,"v":0.125},{"t":848,"v":0.1},{"t":850,"v":0.115},{"t":852,"v":0.185},{"t":854,"v":0.16},{"t":857,"v":0.15},{"t":859,"v":0.1},{"t":861,"v":0.07},{"t":863,"v":0.09},
{"t":866,"v":0.083},{"t":868,"v":0.04},{"t":870,"v":-0.02},{"t":872,"v":0.06},{"t":874,"v":-0.045},{"t":876,"v":0.03},{"t":878,"v":0.055},{"t":880,"v":-0.04},{"t":882,"v":-0.08},{"t":884,"v":0.02},{"t":886,"v":0.065},{"t":888,"v":-0.03},{"t":890,"v":0.045},{"t":892,"v":0.01},{"t":894,"v":-0.105},{"t":896,"v":0.05},{"t":898,"v":0.03},{"t":900,"v":-0.025},{"t":902,"v":0.06},{"t":904,"v":0.04},{"t":906,"v":-0.04},{"t":908,"v":0.015},{"t":910,"v":0.055},{"t":912,"v":0.07},{"t":914,"v":-0.02},{"t":916,"v":0.03},{"t":918,"v":0.05},{"t":920,"v":0.0},{"t":921,"v":0.122},{"t":923,"v":0.06},{"t":925,"v":-0.035},{"t":927,"v":0.04},{"t":929,"v":0.02},{"t":931,"v":0.06},{"t":933,"v":-0.02},{"t":935,"v":0.045},{"t":937,"v":0.01},{"t":939,"v":0.035},{"t":941,"v":-0.07},{"t":942,"v":-0.09},{"t":944,"v":-0.075},{"t":946,"v":0.04},{"t":948,"v":-0.05},{"t":950,"v":0.07},{"t":951,"v":0.108},{"t":953,"v":-0.03},{"t":955,"v":0.0}]
},
"encoding":{
 "x":{"field":"t","type":"quantitative","scale":{"domain":[-100,1000],"nice":false,"zero":false},
  "axis":{"title":"Time, J2000 seconds, rel to 194,604,840.0","values":[-100,-80,-60,-40,-20,0,20,40,60,80,100,120,140,160,180,200,220,240,260,280,300,320,340,360,380,400,420,440,460,480,500,520,540,560,580,600,620,640,660,680,700,720,740,760,780,800,820,840,860,880,900,920,940,960,980,1000],
  "labelExpr":"datum.value % 100 === 0 ? toString(datum.value) : ''",
  "grid":true,"gridColor":{"condition":{"test":"datum.value % 100 !== 0","value":"transparent"},"value":"#9a9a9a"},
  "labelPadding":17,"titlePadding":6}},
 "y":{"field":"v","type":"quantitative","scale":{"domain":[-0.2,0.9],"nice":false,"zero":false},
  "axis":{"title":"Attitude and error, degrees","values":[-0.2,-0.16,-0.12,-0.08,-0.04,0,0.04,0.08,0.12,0.16,0.2,0.24,0.28,0.32,0.36,0.4,0.44,0.48,0.52,0.56,0.6,0.64,0.68,0.72,0.76,0.8,0.84,0.88],
  "labelExpr":"abs(datum.value*5 - round(datum.value*5)) < 0.001 ? replace(format(datum.value, '.1f'), '\u2212', '-') : ''",
  "grid":true,"gridColor":{"condition":{"test":"abs(datum.value*5 - round(datum.value*5)) > 0.001","value":"transparent"},"value":"#9a9a9a"},
  "labelPadding":11,"titlePadding":8}}
},
"layer":[
 {"data":{"name":"w"},"mark":{"type":"point","filled":false,"strokeWidth":3,"size":225,"opacity":1},
  "encoding":{
   "color":{"datum":"wvfit_att","type":"nominal","scale":{"domain":["wvfit_att","calc_att","error (calc - wvfit)"],"range":["#0000cc","#006400","#dd0000"]},
     "legend":{"orient":"none","legendX":180,"legendY":13,"direction":"horizontal","title":null,"strokeColor":"black","fillColor":"white","padding":9,"labelFontSize":25,"labelFontWeight":"bold","labelFont":"Liberation Sans","labelColor":"black","symbolSize":256,"symbolStrokeWidth":3,"columnPadding":30,"labelOffset":3,"symbolOffset":6,"labelLimit":400}},
   "shape":{"datum":"wvfit_att","type":"nominal","scale":{"domain":["wvfit_att","calc_att","error (calc - wvfit)"],"range":["M-1,0L1,0M0,-1L0,1","M-0.75,-0.75L0.75,0.75M-0.75,0.75L0.75,-0.75","M-0.45,0A0.45,0.55 0 1,0 0.45,0A0.45,0.55 0 1,0 -0.45,0Z"]},
     "legend":{"orient":"none","legendX":180,"legendY":13,"direction":"horizontal","title":null,"strokeColor":"black","fillColor":"white","padding":9,"labelFontSize":25,"labelFontWeight":"bold","labelFont":"Liberation Sans","labelColor":"black","symbolSize":256,"symbolStrokeWidth":3,"columnPadding":30,"labelOffset":3,"symbolOffset":6,"labelLimit":400}}}},
 {"data":{"name":"c"},"mark":{"type":"point","filled":false,"strokeWidth":4,"size":324,"opacity":1},
  "encoding":{"color":{"datum":"calc_att","type":"nominal"},"shape":{"datum":"calc_att","type":"nominal"}}},
 {"data":{"name":"e"},"mark":{"type":"point","filled":false,"strokeWidth":2.6,"size":420,"opacity":1},
  "encoding":{"color":{"datum":"error (calc - wvfit)","type":"nominal"},"shape":{"datum":"error (calc - wvfit)","type":"nominal"}}}
]
}
